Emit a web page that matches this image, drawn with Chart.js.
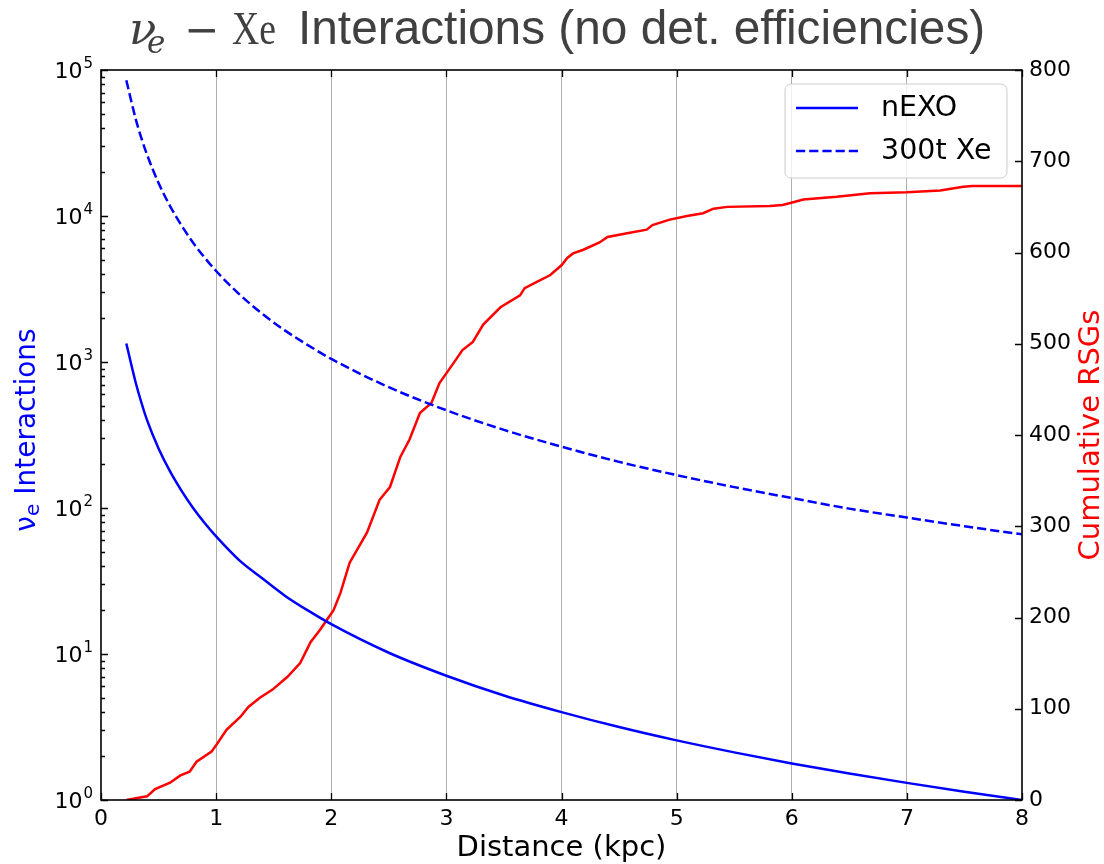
<!DOCTYPE html>
<html>
<head>
<meta charset="utf-8">
<script src="https://cdn.jsdelivr.net/npm/chart.js@4.4.0/dist/chart.umd.min.js"></script>
<style>
  html, body { margin: 0; padding: 0; background: #fff; }
  #wrap { width: 1104px; height: 864px; }
</style>
</head>
<body>
<div id="wrap"><canvas id="chart" width="1104" height="864"></canvas></div>
<script>
// distance grid (kpc) for the interaction curves
const distances = [0.22, 0.3, 0.35, 0.4, 0.5, 0.6, 0.7, 0.8, 0.9, 1.0, 1.2, 1.4, 1.6, 1.8, 2.0,
  2.5, 3.0, 3.5, 4.0, 4.5, 5.0, 5.5, 6.0, 6.5, 7.0, 7.5, 8.0];
const nexoCounts = [1340, 730, 530, 400, 256, 178, 131, 100, 79, 64, 44, 33, 25, 19.8, 16,
  10.2, 7.1, 5.2, 4.0, 3.16, 2.56, 2.12, 1.78, 1.52, 1.31, 1.14, 1.0];
const xe300Counts = [85000, 46700, 34300, 26300, 16800, 11700, 8600, 6560, 5190, 4200, 2920, 2140, 1640, 1300, 1050,
  672, 467, 343, 263, 207, 168, 139, 117, 99, 86, 75, 66];

// cumulative red supergiants vs distance
const rsgDist = [0.22, 0.40, 0.47, 0.60, 0.69, 0.77, 0.83, 0.96, 1.00, 1.09, 1.21, 1.28, 1.38, 1.49, 1.62,
  1.73, 1.82, 1.90, 1.96, 2.02, 2.08, 2.16, 2.31, 2.42, 2.51, 2.60, 2.68, 2.77, 2.87, 2.94,
  3.03, 3.14, 3.23, 3.32, 3.47, 3.64, 3.68, 3.79, 3.90, 4.00, 4.05, 4.10, 4.19, 4.33, 4.40,
  4.57, 4.74, 4.79, 4.94, 5.09, 5.23, 5.32, 5.44, 5.81, 5.92, 5.98, 6.10, 6.39, 6.68, 7.00,
  7.29, 7.49, 7.57, 8.00];
const rsgCount = [0, 4, 12, 19, 27, 31, 42, 53, 60, 77, 91, 102, 112, 121, 135,
  150, 173, 186, 197, 208, 227, 260, 293, 329, 343, 376, 395, 424, 435, 457,
  473, 493, 502, 521, 540, 553, 561, 568, 575, 586, 594, 599, 603, 611, 617,
  621, 625, 630, 636, 640, 643, 648, 650, 651, 652, 654, 658, 661, 665, 666,
  668, 672, 673, 673];

const xTicks = [0, 1, 2, 3, 4, 5, 6, 7, 8];
const logDecades = [0, 1, 2, 3, 4, 5];

const TICK_FONT = { family: 'DejaVu Sans', size: 22 };

function pairs(xs, ys) {
  return xs.map((x, i) => ({ x: x, y: ys[i] }));
}

// text drawn piece by piece along a baseline (for sub/superscripts)
function drawRuns(ctx, runs, x, y) {
  runs.forEach(r => {
    ctx.font = r.font;
    ctx.fillText(r.text, x + (r.dx || 0), y + (r.dy || 0));
    x += ctx.measureText(r.text).width + (r.dx || 0);
  });
  return x;
}
function runsWidth(ctx, runs) {
  return runs.reduce((w, r) => { ctx.font = r.font; return w + ctx.measureText(r.text).width + (r.dx || 0); }, 0);
}

/* === Frame, inward ticks, titles and legend === */
const decorPlugin = {
  id: 'decor',
  afterDraw(chart) {
    const ctx = chart.ctx;
    const a = chart.chartArea;
    const sx = chart.scales.x, sy = chart.scales.y, sy2 = chart.scales.y2;
    ctx.save();

    // ticks pointing into the plot
    ctx.strokeStyle = '#000';
    ctx.lineWidth = 1.3;
    ctx.beginPath();
    xTicks.forEach(v => {
      const px = Math.round(sx.getPixelForValue(v)) + 0.5;
      ctx.moveTo(px, a.bottom); ctx.lineTo(px, a.bottom - 7);
      ctx.moveTo(px, a.top); ctx.lineTo(px, a.top + 7);
    });
    logDecades.forEach(e => {
      const d = Math.pow(10, e);
      const py = Math.round(sy.getPixelForValue(d)) + 0.5;
      ctx.moveTo(a.left, py); ctx.lineTo(a.left + 7, py);
      if (e < 5) {
        for (let m = 2; m <= 9; m++) {
          const pm = Math.round(sy.getPixelForValue(d * m)) + 0.5;
          ctx.moveTo(a.left, pm); ctx.lineTo(a.left + 4, pm);
        }
      }
    });
    for (let v = 0; v <= 800; v += 100) {
      const py = Math.round(sy2.getPixelForValue(v)) + 0.5;
      ctx.moveTo(a.right, py); ctx.lineTo(a.right - 7, py);
    }
    ctx.stroke();

    // frame
    ctx.lineWidth = 1.6;
    ctx.strokeRect(a.left, a.top, a.right - a.left, a.bottom - a.top);

    // log axis labels 10^n
    ctx.fillStyle = '#000';
    ctx.textAlign = 'left';
    ctx.textBaseline = 'alphabetic';
    logDecades.forEach(e => {
      const py = sy.getPixelForValue(Math.pow(10, e));
      const runs = [
        { text: '10', font: '22px "DejaVu Sans"' },
        { text: String(e), font: '15px "DejaVu Sans"', dx: 1, dy: -10 }
      ];
      drawRuns(ctx, runs, a.left - 8 - runsWidth(ctx, runs), py + 8);
    });

    // title: math part then plain text
    const base = 44;
    ctx.fillStyle = '#404040';
    ctx.font = 'italic 45px "DejaVu Serif"';
    ctx.fillText('ν', 129, base);
    ctx.font = 'italic 31px "DejaVu Serif"';
    ctx.fillText('e', 147, base + 9);
    ctx.font = '42px "DejaVu Sans"';
    ctx.fillText('−', 184, base);
    ctx.save();
    ctx.translate(232, base);
    ctx.scale(0.82, 1);
    ctx.font = '46px "Liberation Serif"';
    ctx.fillText('Xe', 0, 0);
    ctx.restore();
    const titleText = 'Interactions (no det. efficiencies)';
    ctx.font = '45px "Liberation Sans"';
    const tsize = 45 * 687 / ctx.measureText(titleText).width;
    ctx.font = tsize.toFixed(1) + 'px "Liberation Sans"';
    ctx.fillText(titleText, 298, base);

    // axis titles
    ctx.font = '29px "DejaVu Sans"';
    ctx.fillStyle = '#000';
    ctx.textAlign = 'center';
    ctx.textBaseline = 'middle';
    ctx.fillText('Distance (kpc)', (a.left + a.right) / 2, 848);

    ctx.save();
    ctx.translate(28, (a.top + a.bottom) / 2 - 5);
    ctx.rotate(-Math.PI / 2);
    ctx.fillStyle = '#0000ff';
    ctx.textAlign = 'left';
    const yRuns = [
      { text: 'ν', font: '28px "DejaVu Sans"' },
      { text: 'e', font: '20px "DejaVu Sans"', dy: 6 },
      { text: ' Interactions', font: '28px "DejaVu Sans"' }
    ];
    drawRuns(ctx, yRuns, -runsWidth(ctx, yRuns) / 2, 0);
    ctx.restore();

    ctx.save();
    ctx.translate(1091, (a.top + a.bottom) / 2);
    ctx.rotate(-Math.PI / 2);
    ctx.fillStyle = '#ff0000';
    ctx.fillText('Cumulative RSGs', 0, 0);
    ctx.restore();

    // legend box in upper right corner
    const bx = 785, by = 84, bw = 222, bh = 94;
    ctx.beginPath();
    ctx.roundRect(bx, by, bw, bh, 6);
    ctx.fillStyle = 'rgba(255,255,255,0.8)';
    ctx.fill();
    ctx.strokeStyle = '#cccccc';
    ctx.lineWidth = 1;
    ctx.stroke();

    ctx.font = '28.5px "DejaVu Sans"';
    ctx.textAlign = 'left';
    chart.data.datasets.slice(0, 2).forEach((ds, i) => {
      const ly = by + 24 + i * 43;
      ctx.beginPath();
      ctx.setLineDash(ds.borderDash || []);
      ctx.strokeStyle = ds.borderColor;
      ctx.lineWidth = ds.borderWidth;
      ctx.moveTo(bx + 11, ly); ctx.lineTo(bx + 73, ly);
      ctx.stroke();
      ctx.setLineDash([]);
      ctx.fillStyle = '#000';
      ctx.fillText(ds.label, bx + 96, ly + 1);
    });

    ctx.restore();
  }
};

new Chart(document.getElementById('chart'), {
  type: 'line',
  data: {
    datasets: [
      {
        label: 'nEXO',
        data: pairs(distances, nexoCounts),
        yAxisID: 'y',
        borderColor: '#0000ff',
        borderWidth: 2.5,
        pointRadius: 0,
        cubicInterpolationMode: 'monotone'
      },
      {
        label: '300t Xe',
        data: pairs(distances, xe300Counts),
        yAxisID: 'y',
        borderColor: '#0000ff',
        borderWidth: 2.5,
        borderDash: [9.2, 4],
        pointRadius: 0,
        cubicInterpolationMode: 'monotone'
      },
      {
        label: 'Cumulative RSGs',
        data: pairs(rsgDist, rsgCount),
        yAxisID: 'y2',
        borderColor: '#ff0000',
        borderWidth: 2.5,
        pointRadius: 0,
        tension: 0
      }
    ]
  },
  options: {
    responsive: false,
    animation: false,
    devicePixelRatio: 1,
    layout: { padding: { top: 70, right: 0, bottom: 0, left: 0 } },
    plugins: { legend: { display: false }, title: { display: false }, tooltip: { enabled: false } },
    scales: {
      x: {
        type: 'linear',
        min: 0, max: 8,
        afterFit: s => { s.height = 64; },
        afterBuildTicks: s => { s.ticks = xTicks.map(v => ({ value: v })); },
        border: { display: false },
        grid: {
          drawTicks: false,
          color: c => (c.tick && (c.tick.value === 0 || c.tick.value === 8)) ? 'rgba(0,0,0,0)' : '#b0b0b0',
          lineWidth: 1
        },
        ticks: { color: '#000', font: TICK_FONT, padding: 6, maxRotation: 0 }
      },
      y: {
        type: 'logarithmic',
        position: 'left',
        min: 1, max: 100000,
        afterFit: s => { s.width = 101; },
        border: { display: false },
        grid: { display: false, drawTicks: false },
        ticks: { display: false }
      },
      y2: {
        type: 'linear',
        position: 'right',
        min: 0, max: 800,
        afterFit: s => { s.width = 82; },
        border: { display: false },
        grid: { display: false, drawTicks: false },
        ticks: { color: '#000', font: TICK_FONT, padding: 7, stepSize: 100 }
      }
    }
  },
  plugins: [decorPlugin]
});
</script>
</body>
</html>
